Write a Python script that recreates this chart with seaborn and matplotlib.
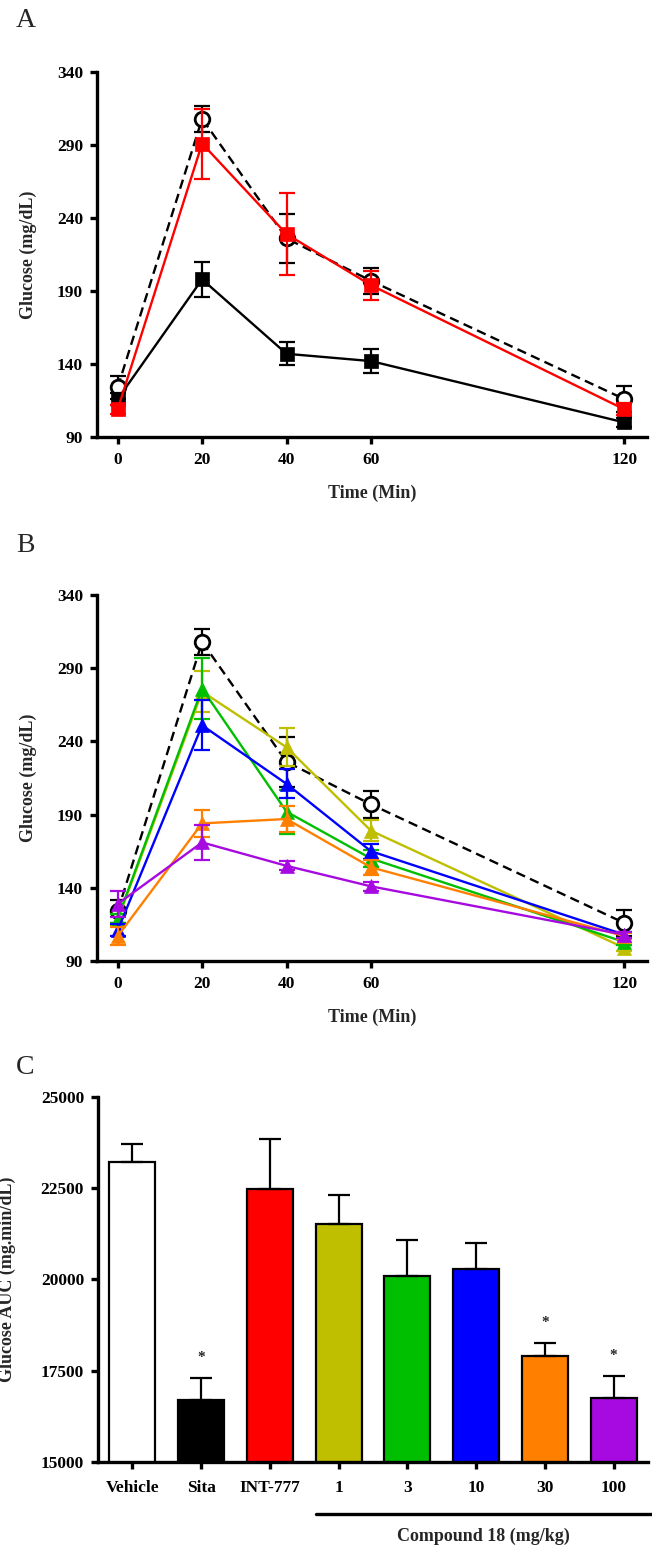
"""Oral glucose tolerance curves and AUC bars (panels A-C)."""

import numpy as np
import pandas as pd
import matplotlib
matplotlib.use("Agg")
import matplotlib.pyplot as plt
import matplotlib.transforms as mtransforms
import seaborn as sns

# ---- data -------------------------------------------------------------
time_min = [0, 20, 40, 60, 120]

vehicle = [124, 308, 226, 197, 116]
vehicle_err = [8, 9, 17, 9, 9]
sita = [116, 198, 147, 142, 100]
sita_err = [4, 12, 8, 8, 3]
int777 = [109, 291, 229, 194, 109]
int777_err = [3, 24, 28, 10, 4]

c18_1 = [118, 274, 236, 179, 99]
c18_1_err = [4, 14, 13, 7, 2]
c18_3 = [119, 276, 192, 160, 103]
c18_3_err = [3, 21, 15, 6, 2]
c18_10 = [111, 251, 211, 165, 108]
c18_10_err = [4, 17, 10, 5, 2]
c18_30 = [107, 184, 187, 154, 107]
c18_30_err = [6, 9, 9, 5, 2]
c18_100 = [129, 171, 155, 141, 108]
c18_100_err = [9, 12, 3, 3, 2]

auc_labels = ["Vehicle", "Sita", "INT-777", "1", "3", "10", "30", "100"]
auc_values = [23230, 16700, 22470, 21520, 20090, 20290, 17910, 16740]
auc_err = [470, 590, 1390, 800, 990, 710, 355, 610]
auc_signif = [False, True, False, False, False, False, True, True]

glc_ticks = [90, 140, 190, 240, 290, 340]
auc_ticks = [15000, 17500, 20000, 22500, 25000]

# colours
BLACK = "#000000"
RED = "#FF0000"
OLIVE = "#BFBF00"
GREEN = "#00BF00"
BLUE = "#0000FF"
ORANGE = "#FF8000"
PURPLE = "#A60AE0"

sns.set_theme(style="ticks")
plt.rcParams["font.family"] = ["Liberation Serif", "DejaVu Serif"]
plt.rcParams["font.weight"] = "bold"

W, H = 652, 1545
fig = plt.figure(figsize=(W / 100, H / 100), dpi=100)
fig.patch.set_facecolor("white")


def px_axes(left, top, right, bottom):
    return fig.add_axes([left / W, 1 - bottom / H, (right - left) / W, (bottom - top) / H])


def style_axis(ax):
    for side in ["top", "right"]:
        ax.spines[side].set_visible(False)
    for side in ["left", "bottom"]:
        ax.spines[side].set_linewidth(2.4)
        ax.spines[side].set_color("black")
    ax.tick_params(axis="both", which="major", length=5, width=2.4,
                   direction="out", colors="black", labelsize=12.5)
    ax.tick_params(axis="x", pad=6)
    ax.tick_params(axis="y", pad=5)
    for lab in ax.get_xticklabels() + ax.get_yticklabels():
        lab.set_fontweight("bold")
    ax.set_facecolor("white")
    ax.grid(False)


def draw_series(ax, y, yerr, color, marker, ls="-", face=None, z=3):
    ax.errorbar(time_min, y, yerr=yerr, fmt="none", ecolor=color,
                elinewidth=1.6, capsize=6, capthick=1.6, zorder=z, clip_on=False)
    sns.lineplot(x=time_min, y=y, ax=ax, color=color, errorbar=None,
                 marker=marker, markersize=10.5,
                 markerfacecolor=face if face else color,
                 markeredgecolor=color, markeredgewidth=2 if face else 0.5,
                 linewidth=1.7, linestyle=ls, zorder=z + 0.5, clip_on=False)


def finish_time_axis(ax):
    ax.set_xlim(-4.9, 125.4)
    ax.set_ylim(90, 340)
    ax.set_xticks(time_min)
    ax.set_yticks(glc_ticks)
    ax.set_xlabel("Time (Min)", fontsize=13, fontweight="bold")
    ax.set_ylabel("Glucose (mg/dL)", fontsize=13, fontweight="bold")
    ax.xaxis.label.set_va("center")
    ax.yaxis.label.set_va("center")
    ax.xaxis.set_label_coords(0.5, -0.153)
    ax.yaxis.set_label_coords(-0.124, 0.5)
    style_axis(ax)


dash = (0, (4, 2.3))

# ---- panel A ----------------------------------------------------------
axA = px_axes(97, 72, 647, 437)
draw_series(axA, vehicle, vehicle_err, BLACK, "o", ls=dash, face="white", z=3)
draw_series(axA, sita, sita_err, BLACK, "s", z=4)
draw_series(axA, int777, int777_err, RED, "s", z=5)
finish_time_axis(axA)

# ---- panel B ----------------------------------------------------------
axB = px_axes(97, 595, 647, 961)
draw_series(axB, vehicle, vehicle_err, BLACK, "o", ls=dash, face="white", z=3)
draw_series(axB, c18_1, c18_1_err, OLIVE, "^", z=4)
draw_series(axB, c18_3, c18_3_err, GREEN, "^", z=5)
draw_series(axB, c18_10, c18_10_err, BLUE, "^", z=6)
draw_series(axB, c18_30, c18_30_err, ORANGE, "^", z=7)
draw_series(axB, c18_100, c18_100_err, PURPLE, "^", z=8)
finish_time_axis(axB)

# ---- panel C ----------------------------------------------------------
axC = px_axes(98, 1097, 648, 1462)
bar_colors = ["white", BLACK, RED, OLIVE, GREEN, BLUE, ORANGE, PURPLE]
auc_df = pd.DataFrame({"group": auc_labels, "auc": auc_values})
sns.barplot(data=auc_df, x="group", y="auc", hue="group", palette=bar_colors,
            order=auc_labels, hue_order=auc_labels, legend=False,
            width=0.67, edgecolor="black", linewidth=1.6, saturation=1, ax=axC)
xpos = np.arange(len(auc_labels))
axC.errorbar(xpos, auc_values, yerr=[np.zeros(len(auc_err)), auc_err], fmt="none",
             ecolor="black", elinewidth=1.6, capsize=8, capthick=1.6, zorder=1)
for x, v, e, s in zip(xpos, auc_values, auc_err, auc_signif):
    if s:
        axC.text(x, v + e + 560, "*", ha="center", va="center", fontsize=11)
axC.set_xlim(-0.5, 7.5)
axC.set_ylim(15000, 25000)
axC.set_yticks(auc_ticks)
axC.set_xlabel("")
axC.set_ylabel("Glucose AUC (mg.min/dL)", fontsize=13, fontweight="bold")
axC.yaxis.label.set_va("center")
axC.yaxis.set_label_coords(-0.164, 0.5)
style_axis(axC)
axC.tick_params(axis="x", pad=8)

# compound 18 bracket line and label
trans = mtransforms.blended_transform_factory(axC.transData, axC.transAxes)
axC.plot([2.665, 7.57], [-0.1425, -0.1425], color="black", linewidth=2.4,
         transform=trans, clip_on=False)
axC.text(5.11, -0.205, "Compound 18 (mg/kg)", transform=trans, ha="center",
         va="center", fontsize=13, fontweight="bold")

# panel letters
for letter, top in [("A", 8), ("B", 533), ("C", 1055)]:
    fig.text(16 / W, 1 - top / H, letter, fontsize=20, fontweight="normal",
             ha="left", va="top")

fig.savefig("out.png", dpi=100, facecolor="white")
